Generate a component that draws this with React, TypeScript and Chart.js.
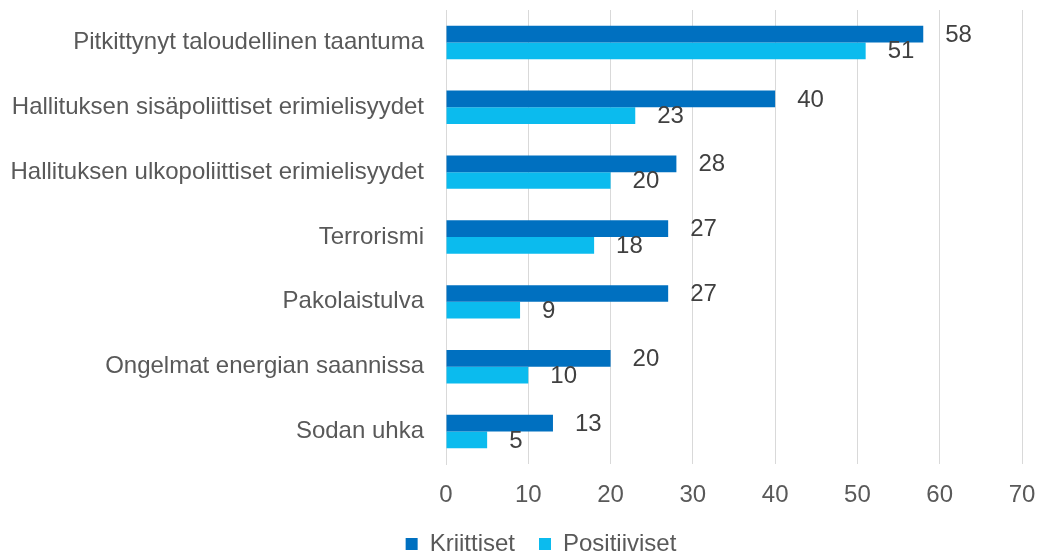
import React, { useEffect, useRef } from "react";
import { Chart, registerables } from "chart.js";

Chart.register(...registerables);

const categories = [
  "Pitkittynyt taloudellinen taantuma",
  "Hallituksen sisäpoliittiset erimielisyydet",
  "Hallituksen ulkopoliittiset erimielisyydet",
  "Terrorismi",
  "Pakolaistulva",
  "Ongelmat energian saannissa",
  "Sodan uhka",
];
const kriittiset = [58, 40, 28, 27, 27, 20, 13];
const positiiviset = [51, 23, 20, 18, 9, 10, 5];
const seriesNames = ["Kriittiset", "Positiiviset"];
const xMin = 0;
const xMax = 70;
const xStep = 10;

const FONT = "'Liberation Sans', Arial, sans-serif";

const valueLabels = {
  id: "valueLabels",
  afterDatasetsDraw(chart: any) {
    const ctx = chart.ctx;
    ctx.save();
    ctx.font = `24px ${FONT}`;
    ctx.fillStyle = "#404040";
    ctx.textAlign = "left";
    ctx.textBaseline = "middle";
    chart.data.datasets.forEach((ds: any, di: number) => {
      const meta = chart.getDatasetMeta(di);
      meta.data.forEach((el: any, i: number) => {
        ctx.fillText(String(ds.data[i]), el.x + 22, el.y + 1);
      });
    });
    ctx.restore();
  },
};

const legendShift = {
  id: "legendShift",
  afterLayout(chart: any) {
    const l = chart.legend;
    if (l) {
      l.left += 30;
      l.right += 30;
    }
  },
};

export default function App() {
  const ref = useRef<HTMLCanvasElement | null>(null);
  useEffect(() => {
    if (!ref.current) return;
    const chart = new Chart(ref.current, {
      type: "bar",
      data: {
        labels: categories,
        datasets: [
          {
            label: seriesNames[0],
            data: kriittiset,
            backgroundColor: "#0070C0",
            categoryPercentage: 0.515,
            barPercentage: 1,
          },
          {
            label: seriesNames[1],
            data: positiiviset,
            backgroundColor: "#0BBBEE",
            categoryPercentage: 0.515,
            barPercentage: 1,
          },
        ],
      },
      options: {
        indexAxis: "y",
        animation: false,
        responsive: false,
        maintainAspectRatio: false,
        layout: { padding: { left: 0, right: 34, top: 10, bottom: 0 } },
        plugins: {
          tooltip: { enabled: false },
          legend: {
            position: "bottom",
            maxHeight: 46,
            labels: {
              boxWidth: 12,
              boxHeight: 12,
              padding: 24,
              color: "#595959",
              font: { family: FONT, size: 24 },
            },
          },
        },
        scales: {
          x: {
            min: xMin,
            max: xMax,
            ticks: {
              stepSize: xStep,
              color: "#595959",
              font: { family: FONT, size: 24 },
              padding: 17,
            },
            grid: { color: "#D9D9D9", lineWidth: 1, drawTicks: false },
            border: { display: false },
            afterFit: (s: any) => {
              s.height = 44;
            },
          },
          y: {
            ticks: {
              color: "#595959",
              font: { family: FONT, size: 24 },
              padding: 22,
            },
            grid: { display: false, drawTicks: false },
            border: { display: true, color: "#D9D9D9" },
            afterFit: (s: any) => {
              s.width = 446;
              s.paddingTop = 0;
              s.paddingBottom = 0;
            },
          },
        },
      },
      plugins: [valueLabels, legendShift],
    });
    return () => chart.destroy();
  }, []);
  return (
    <div style={{ position: "fixed", left: 0, top: 0, width: 1056, height: 554, background: "#fff" }}>
      <canvas ref={ref} width={1056} height={554} style={{ width: 1056, height: 554 }} />
    </div>
  );
}
